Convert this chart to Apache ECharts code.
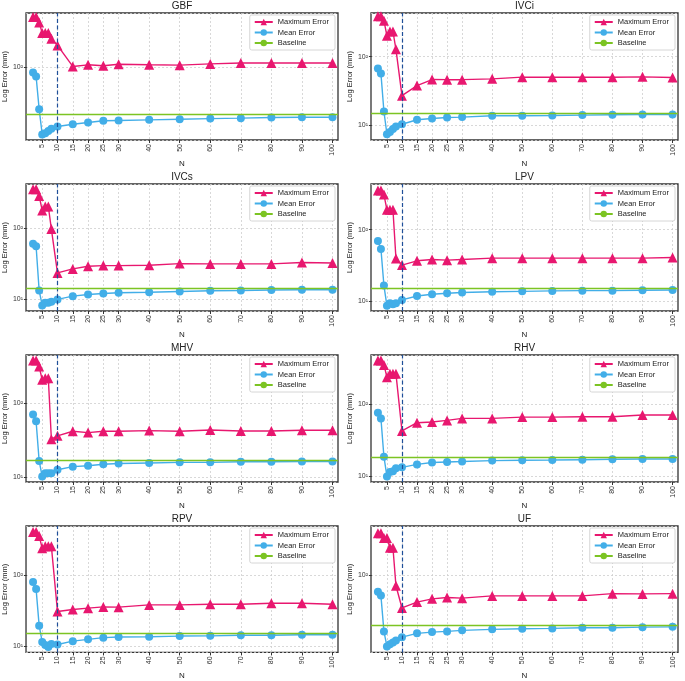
<!DOCTYPE html>
<html>
<head>
<meta charset="utf-8">
<script src="https://cdn.jsdelivr.net/npm/echarts@6/dist/echarts.min.js"></script>
<style>
  html, body { margin: 0; padding: 0; background: #fff; }
  #chart { width: 685px; height: 681px; }
</style>
</head>
<body>
<div id="chart"></div>
<script>
// sample sizes N and the ticks shown on the x axis
const nValues = [2, 3, 4, 5, 6, 7, 8, 10, 15, 20, 25, 30, 40, 50, 60, 70, 80, 90, 100];
const nTicks = [5, 10, 15, 20, 25, 30, 40, 50, 60, 70, 80, 90, 100];
const panelNames = ["GBF", "IVCi", "IVCs", "LPV", "MHV", "RHV", "RPV", "UF"];

// maximum / mean error (mm) for each vessel
const gbfMax = [439, 439, 375, 274, 274, 274, 232, 191, 103, 108, 105, 110, 108, 107, 111, 114, 114, 114, 114];
const gbfMean = [86.4, 76.7, 29.4, 14.0, 14.5, 15.5, 16.5, 17.7, 18.9, 19.9, 20.9, 21.1, 21.5, 21.9, 22.3, 22.6, 23.0, 23.2, 23.2];
const ivciMax = [390, 390, 337, 202, 234, 234, 128, 26.8, 37.7, 46.2, 46, 46, 47.3, 50.1, 50, 50, 50, 50.6, 49.5];
const ivciMean = [67.3, 56.8, 15.7, 7.28, 7.88, 8.73, 9.44, 10.2, 11.9, 12.4, 12.8, 13.0, 13.6, 13.6, 13.7, 13.9, 14.1, 14.2, 14.2];
const ivcsMax = [360, 360, 290, 180, 205, 205, 98, 23.3, 26.6, 29, 29.6, 29.6, 29.9, 31.6, 31.3, 31.3, 31.3, 32.7, 32.3];
const ivcsMean = [60.7, 55.6, 13.1, 8.05, 8.78, 8.78, 9.07, 9.8, 10.9, 11.5, 11.9, 12.2, 12.4, 12.7, 13, 13.1, 13.3, 13.4, 13.4];
const lpvMax = [354, 354, 311, 190, 190, 190, 39.4, 31.8, 36.5, 38.1, 37.3, 38.1, 39.8, 39.8, 39.8, 39.8, 39.8, 39.8, 40.6];
const lpvMean = [69.5, 53.7, 16.4, 8.5, 9.27, 8.98, 9.27, 10.3, 11.7, 12.4, 12.8, 13.1, 13.4, 13.6, 13.8, 13.9, 13.9, 14.1, 14.2];
const mhvMax = [383, 383, 318, 210, 221, 221, 32.8, 36.4, 42, 40.3, 42, 42, 42.9, 42, 43.8, 42.4, 42.4, 43.3, 43.3];
const mhvMean = [71.1, 57.3, 16.6, 10.2, 11.3, 11.3, 11.3, 12.6, 13.9, 14.3, 15, 15.3, 15.6, 15.9, 15.9, 16.2, 16.2, 16.3, 16.3];
const rhvMax = [410, 410, 357, 241, 268, 268, 268, 42.8, 55.8, 57, 60.1, 64, 64, 66.8, 66.8, 67.5, 67.5, 71.3, 71.3];
const rhvMean = [76.7, 64, 18.7, 9.9, 11.4, 11.7, 12.9, 13.3, 14.6, 15.5, 15.8, 16, 16.5, 16.7, 16.8, 17, 17.2, 17.4, 17.4];
const rpvMax = [411, 411, 361, 241, 257, 257, 257, 30.8, 32.8, 34.3, 35.7, 35.4, 38.1, 38.1, 39, 39, 40.3, 40.3, 39];
const rpvMean = [80.7, 63.8, 19.4, 11.4, 10.3, 9.7, 10.7, 10.5, 11.7, 12.4, 13.1, 13.4, 13.5, 13.8, 13.9, 14.2, 14.2, 14.4, 14.4];
const ufMax = [331, 331, 288, 288, 219, 219, 74.5, 39.8, 47, 51.5, 53.5, 52.5, 56, 56, 56, 56, 59.7, 59.2, 59.7];
const ufMean = [63, 56.5, 20.5, 13.4, 14.2, 15, 15.8, 17.4, 19.4, 20.1, 20.5, 21.1, 21.7, 22.1, 22.3, 22.7, 22.7, 23.1, 23.3];

const baselineValues = [25.4, 14.9, 14.3, 15.0, 17.1, 18.1, 15.3, 24.7];
const maxSeries = [gbfMax, ivciMax, ivcsMax, lpvMax, mhvMax, rhvMax, rpvMax, ufMax];
const meanSeries = [gbfMean, ivciMean, ivcsMean, lpvMean, mhvMean, rhvMean, rpvMean, ufMean];
const splitN = 10;

// y extent of every panel (log axis)
const yRanges = [[11.9, 494], [6.0, 437], [6.7, 428], [7.2, 438], [8.6, 456], [8.3, 491], [8.1, 499], [11.3, 405]];

const FONT = "Liberation Sans, Arial, sans-serif";
const MAX_COLOR = "#E8176F";
const MEAN_COLOR = "#42AEE8";
const BASE_COLOR = "#7CC423";

const colLeft = [26, 371];
const colWidth = [312, 307];
const rowTop = [13, 184, 355, 526];
const plotHeight = 127;

const chart = echarts.init(document.getElementById("chart"));

const grids = [], xAxes = [], yAxes = [], series = [], titles = [], legends = [];

panelNames.forEach((name, i) => {
  const col = i % 2;
  const row = Math.floor(i / 2);
  const left = colLeft[col];
  const top = rowTop[row];
  grids.push({
    left: left, top: top, width: colWidth[col], height: plotHeight,
    show: true, borderColor: "#333", borderWidth: 1.3, backgroundColor: "#fff"
  });
  titles.push({
    text: name,
    left: left + colWidth[col] / 2,
    top: top - 12,
    padding: 0,
    textAlign: "center",
    textStyle: { fontSize: 10, fontWeight: "normal", color: "#222", fontFamily: FONT }
  });
  xAxes.push({
    type: "value", gridIndex: i,
    min: -0.3, max: 101.8,
    name: "N", nameLocation: "middle", nameGap: 19,
    nameTextStyle: { fontSize: 8, color: "#222", fontFamily: FONT },
    axisLine: { show: false },
    axisTick: { show: true, length: 3, customValues: nTicks, lineStyle: { color: "#333" } },
    axisLabel: { customValues: nTicks, rotate: 90, fontSize: 7, margin: 4, color: "#333", fontFamily: FONT },
    splitLine: { show: true, lineStyle: { color: "#cfcfcf", type: [2, 2], width: 0.8 } }
  });
  yAxes.push({
    type: "log", logBase: 10, gridIndex: i,
    min: yRanges[i][0], max: yRanges[i][1],
    name: "Log Error (mm)", nameLocation: "middle", nameGap: 14,
    nameTextStyle: { fontSize: 7.5, color: "#222", fontFamily: FONT },
    axisLine: { show: false },
    axisTick: { show: true, length: 3, lineStyle: { color: "#333" } },
    axisLabel: {
      fontSize: 7, margin: 3, color: "#333", fontFamily: FONT,
      showMinLabel: false, showMaxLabel: false,
      formatter: (v) => {
        if (Math.abs(v - 10) < 1e-6) return "10\u00B9";
        if (Math.abs(v - 100) < 1e-6) return "10\u00B2";
        return "";
      }
    },
    splitLine: { show: true, lineStyle: { color: "#cfcfcf", type: [2, 2], width: 0.8 } }
  });
  series.push({
    name: "Maximum Error", type: "line", xAxisIndex: i, yAxisIndex: i,
    data: nValues.map((n, k) => [n, maxSeries[i][k]]),
    symbol: "triangle", symbolSize: 10,
    itemStyle: { color: MAX_COLOR },
    lineStyle: { color: MAX_COLOR, width: 1.4 },
    z: 3
  });
  series.push({
    name: "Mean Error", type: "line", xAxisIndex: i, yAxisIndex: i,
    data: nValues.map((n, k) => [n, meanSeries[i][k]]),
    symbol: "circle", symbolSize: 8,
    itemStyle: { color: MEAN_COLOR },
    lineStyle: { color: MEAN_COLOR, width: 1.4 },
    z: 3,
    markLine: {
      silent: true, symbol: "none", label: { show: false },
      lineStyle: { color: "#1F4F99", type: [4, 2.5], width: 1.2 },
      data: [{ xAxis: splitN }]
    }
  });
  series.push({
    name: "Baseline", type: "line", xAxisIndex: i, yAxisIndex: i,
    data: [], symbol: "none",
    itemStyle: { color: BASE_COLOR },
    lineStyle: { color: BASE_COLOR, width: 1.3 },
    markLine: {
      silent: true, symbol: "none", label: { show: false },
      lineStyle: { color: BASE_COLOR, type: "solid", width: 1.3 },
      data: [{ yAxis: baselineValues[i] }]
    }
  });
  legends.push({
    data: ["Maximum Error", "Mean Error", "Baseline"],
    orient: "vertical",
    right: 685 - (left + colWidth[col]) + 3,
    top: top + 2,
    itemWidth: 18, itemHeight: 8, itemGap: 2.5,
    padding: [3, 6, 3, 4],
    backgroundColor: "#fff",
    borderColor: "#cccccc", borderWidth: 0.8, borderRadius: 2,
    textStyle: { fontSize: 7.5, color: "#222", fontFamily: FONT }
  });
});

chart.setOption({
  animation: false,
  textStyle: { fontFamily: FONT },
  title: titles,
  grid: grids,
  xAxis: xAxes,
  yAxis: yAxes,
  legend: legends,
  series: series
});
</script>
</body>
</html>
